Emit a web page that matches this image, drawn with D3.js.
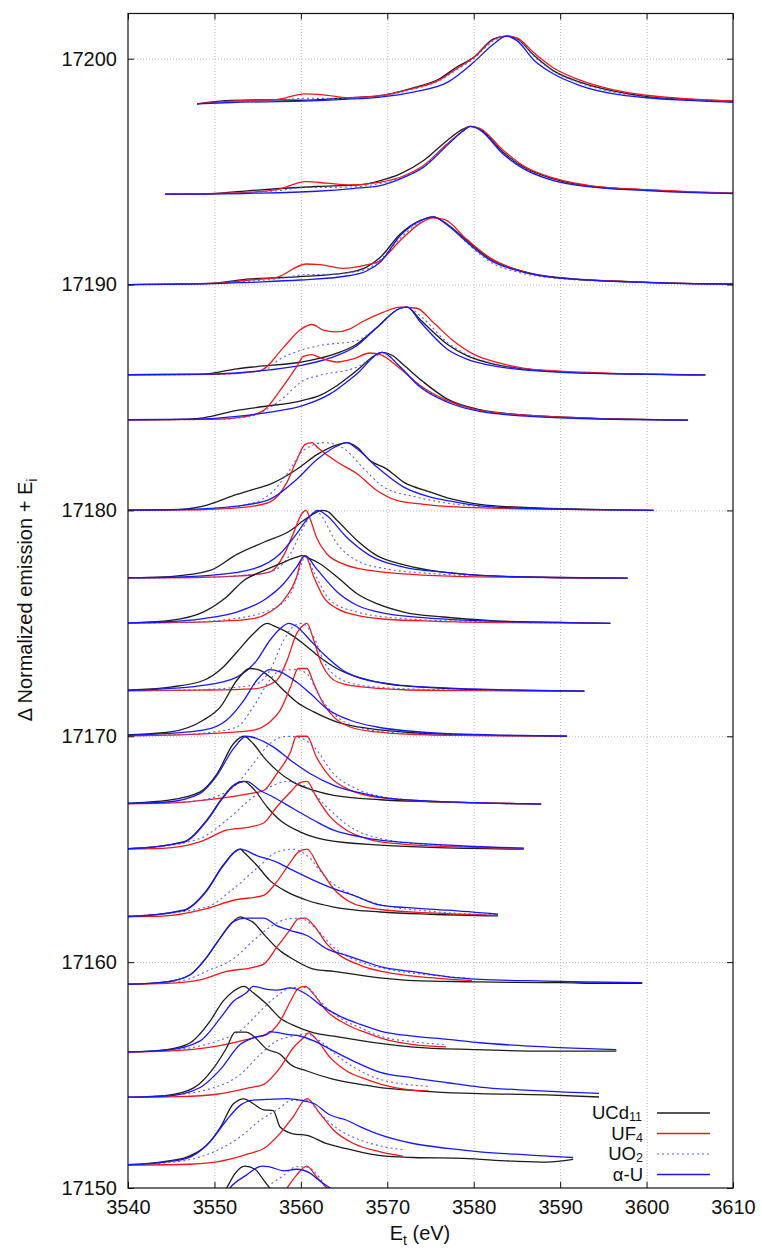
<!DOCTYPE html>
<html lang="en">
<head>
<meta charset="UTF-8">
<title>Normalized emission cuts</title>
<script src="https://d3js.org/d3.v7.min.js"></script>
<style>
  body { margin: 0; background: #fff; }
  svg { display: block; font-family: "Liberation Sans", Arial, sans-serif; }
</style>
</head>
<body>
<script>
// incident energies (baseline of each cut)
const incident = [17198, 17194, 17190, 17186, 17184, 17180, 17177, 17175, 17172,
                  17170, 17167, 17165, 17162, 17159, 17156, 17154, 17151, 17148];

// [E_t, normalized emission], one list per cut
const ucd11 = [
  [[3548,0],[3552,0.15],[3557,0.18],[3560,0.16],[3565.5,0.27],[3569,0.35],[3573,0.71],[3576,1.1],[3578,1.62],[3580,2.06],[3582.3,2.88],[3583.8,3],[3585,2.88],[3587,2.14],[3589.2,1.47],[3592.3,0.96],[3596.2,0.56],[3600,0.32],[3605,0.2],[3610,0.12],[3619,0.05]],
  [[3544.3,0],[3550.3,0.04],[3554.1,0.16],[3557.2,0.24],[3561.8,0.34],[3566.8,0.41],[3569.2,0.6],[3571.5,0.9],[3574.2,1.49],[3576.9,2.37],[3578.8,2.89],[3579.6,3],[3580.7,2.89],[3583.4,1.86],[3585.8,1.19],[3589.2,0.68],[3593.8,0.34],[3600,0.19],[3610,0.04],[3615,0.02]],
  [[3540,0],[3545,0.02],[3549.9,0.06],[3554.1,0.25],[3557.2,0.3],[3559.9,0.35],[3565.7,0.55],[3567.6,0.77],[3569.2,1.21],[3571.5,2.24],[3573.8,2.83],[3575.3,3],[3576.9,2.68],[3579.2,1.95],[3581.9,1.14],[3585.4,0.62],[3590,0.3],[3600,0.1],[3611,0.02]],
  [[3536,0],[3548.7,0.03],[3552.6,0.27],[3554.9,0.37],[3559.9,0.56],[3563.4,0.86],[3566.5,1.37],[3568.8,2.1],[3571.5,2.95],[3572.3,3],[3573.8,2.45],[3576.9,1.37],[3579.2,0.85],[3582.6,0.45],[3586.5,0.24],[3592.3,0.1],[3600,0.03],[3606.8,0]],
  [[3536,0],[3545,0.02],[3548.7,0.1],[3552.6,0.43],[3555.7,0.6],[3559.9,0.84],[3562.2,1.09],[3564.2,1.53],[3566.5,2.2],[3568.4,2.82],[3569.4,3],[3570.5,2.88],[3572,2.4],[3574.2,1.68],[3576.9,0.94],[3580.7,0.46],[3586.5,0.21],[3592.3,0.1],[3604.8,0]],
  [[3536,0],[3544.9,0.02],[3548.7,0.19],[3552.6,0.71],[3554.5,0.93],[3556.4,1.15],[3559.5,1.81],[3561.9,2.48],[3564.2,2.9],[3565.3,3],[3566.5,2.8],[3568,2.21],[3569.9,1.84],[3571.9,1.25],[3575,0.81],[3577.3,0.52],[3580.7,0.27],[3586.5,0.12],[3593,0.05],[3600.8,0]],
  [[3536,0],[3541,0.02],[3544.9,0.07],[3549.5,0.34],[3552.6,1.05],[3555.7,1.59],[3558.8,2.11],[3560.3,2.55],[3561.5,2.85],[3562.4,3],[3563,2.97],[3564.2,2.55],[3566.5,1.67],[3568.8,1],[3571.5,0.63],[3575,0.34],[3580.7,0.12],[3588,0.04],[3597.8,0]],
  [[3536,0],[3541,0.03],[3544.9,0.13],[3548.7,0.5],[3551.4,1.17],[3553.4,1.9],[3555.3,2.27],[3557.6,2.64],[3559.5,2.93],[3560.1,3],[3560.7,2.92],[3562.2,2.64],[3564.2,2.05],[3566.5,1.31],[3568.8,0.87],[3571.9,0.5],[3576.5,0.28],[3582,0.12],[3588,0.05],[3595.8,0]],
  [[3536,0],[3540,0.05],[3544.9,0.18],[3548.7,0.47],[3551,1.06],[3552.6,1.73],[3554.5,2.54],[3556.1,3],[3556.8,2.9],[3558.4,2.61],[3560.3,2.1],[3562.2,1.5],[3564.2,0.99],[3566.5,0.62],[3569.9,0.32],[3575,0.15],[3580,0.07],[3592.8,0]],
  [[3536,0],[3540,0.06],[3544.9,0.19],[3548.7,0.71],[3550.7,1.3],[3552.6,2.48],[3554.1,3],[3555.3,2.92],[3556.4,2.63],[3558,2.04],[3559.5,1.52],[3561.5,1.08],[3564.2,0.63],[3568,0.34],[3571.9,0.19],[3577,0.08],[3584,0.03],[3590.8,0]],
  [[3536,0],[3540,0.04],[3544.5,0.16],[3548.3,0.53],[3550.3,1.34],[3552.2,2.67],[3553.4,3],[3554.5,2.67],[3555.7,2.08],[3557.2,1.49],[3559.1,0.97],[3561.5,0.6],[3563.8,0.38],[3569.2,0.19],[3575,0.1],[3580,0.05],[3587.8,0]],
  [[3536,0],[3540,0.02],[3546.4,0.32],[3549.1,1.28],[3551,2.31],[3552.2,2.83],[3553.4,3],[3554.5,2.68],[3556.1,1.87],[3557.6,1.28],[3559.9,0.77],[3563,0.4],[3569.2,0.18],[3575,0.08],[3585.8,0]],
  [[3536,0],[3540,0.02],[3546.4,0.3],[3549.1,1.18],[3551,2.29],[3552.4,2.9],[3553,3],[3553.4,2.87],[3554.9,2.29],[3556.4,1.62],[3558.4,1.11],[3560.7,0.74],[3563.8,0.44],[3569.2,0.22],[3575,0.12],[3582.8,0.05]],
  [[3536,0],[3540,0.02],[3544.5,0.13],[3547.2,0.44],[3549.1,1.21],[3550.7,2.09],[3552.2,2.8],[3553,3],[3553.4,2.95],[3554.5,2.76],[3555.7,2.24],[3557.6,1.5],[3559.1,1.13],[3561.5,0.69],[3563.8,0.59],[3569.2,0.3],[3573,0.18],[3580,0.13],[3584.6,0.1],[3590,0.09],[3595,0.06],[3599.5,0.06]],
  [[3536,0],[3540,0.02],[3544.5,0.13],[3547.2,0.43],[3549.5,1.39],[3551,2.27],[3552.2,2.71],[3553.4,2.93],[3554.5,2.64],[3556.1,2.12],[3557.6,1.53],[3559.1,1.21],[3561.5,0.87],[3563.8,0.72],[3569.2,0.4],[3573,0.24],[3580,0.13],[3588.4,0.06],[3596.5,0.06]],
  [[3536,0],[3540,0.02],[3544.5,0.1],[3547.6,0.43],[3549.9,1.31],[3551.4,2.2],[3552.4,2.9],[3553.7,2.9],[3554.5,2.73],[3556.1,2.14],[3557.6,1.92],[3558.8,1.47],[3560.7,1.18],[3563.8,0.81],[3566.9,0.59],[3569.2,0.44],[3573,0.32],[3577,0.22],[3580.7,0.18],[3588.4,0.12],[3594.5,0.03]],
  [[3536,0],[3540,0.03],[3544.5,0.19],[3546.8,0.37],[3549.1,0.89],[3550.7,1.7],[3552.2,2.73],[3553.4,2.95],[3554.5,2.73],[3555.7,2.46],[3556.8,2.43],[3557.6,1.7],[3559.1,1.4],[3560.7,1.33],[3563,0.96],[3565.3,0.74],[3569.2,0.43],[3573,0.35],[3578.8,0.31],[3584.6,0.19],[3588.4,0.15],[3591.5,0.27]],
  [[3536,0],[3540,0.03],[3544.5,0.18],[3547.6,0.5],[3549.9,1.2],[3551.4,2],[3552.4,2.65],[3553.5,2.97],[3554.7,2.83],[3555.7,2.35],[3556.4,2],[3558,1.5],[3561,1.1],[3565,0.7],[3570,0.45],[3580,0.3],[3588.5,0.2]]
];

const uf4 = [
  [[3548,0],[3552,0.12],[3557,0.18],[3560.5,0.44],[3562.6,0.4],[3565.5,0.27],[3569,0.35],[3573,0.68],[3576,1.05],[3578,1.55],[3580,2.05],[3582.3,2.85],[3583.8,3],[3585,2.92],[3587,2.25],[3589.2,1.6],[3592.3,1.05],[3596.2,0.62],[3600,0.38],[3605,0.22],[3610,0.13],[3619,0.05]],
  [[3544.3,0],[3550.3,0.03],[3554.1,0.09],[3557.2,0.2],[3560.6,0.56],[3563,0.49],[3565.7,0.41],[3569.2,0.53],[3571.5,0.75],[3574.2,1.27],[3576.9,2.22],[3578.8,2.81],[3579.6,3],[3580.7,2.92],[3583.4,1.95],[3585.8,1.25],[3589.2,0.72],[3593.8,0.36],[3600,0.2],[3610,0.05],[3615,0.02]],
  [[3540,0],[3549.9,0.05],[3554.1,0.2],[3557.2,0.32],[3560.6,0.91],[3562.2,0.88],[3564.9,0.72],[3567.6,0.87],[3569.2,1.06],[3571.5,1.95],[3573.8,2.71],[3575.3,2.95],[3576.6,2.88],[3579.2,2.0],[3581.9,1.18],[3585.4,0.6],[3590,0.28],[3600,0.1],[3611,0]],
  [[3536,0],[3550,0.02],[3555.3,0.19],[3558,1.22],[3559.9,1.99],[3561.3,2.23],[3562.6,1.98],[3564,1.9],[3565.7,2.04],[3567,2.33],[3569.5,2.77],[3571.5,3],[3573.4,2.95],[3575.3,2.33],[3577.6,1.52],[3579.9,0.93],[3582.6,0.56],[3585.7,0.3],[3590,0.16],[3596.1,0.07],[3606.8,0]],
  [[3536,0],[3550,0.03],[3553.5,0.15],[3555.7,0.43],[3557.6,1.31],[3559.5,2.35],[3560.3,2.82],[3561.3,2.9],[3562.2,2.76],[3564.2,2.57],[3566.1,2.71],[3568,2.97],[3569.2,2.9],[3571.5,2.27],[3573.8,1.53],[3576.9,0.87],[3580.7,0.43],[3586.5,0.21],[3592.3,0.1],[3604.8,0]],
  [[3536,0],[3548,0.03],[3553,0.12],[3556.4,0.37],[3558.4,1.25],[3559.5,2.21],[3560.5,2.92],[3561.3,3],[3561.9,2.8],[3564.2,2.14],[3566.5,1.62],[3568.8,0.88],[3571.1,0.44],[3574.2,0.27],[3577.3,0.17],[3582,0.1],[3590,0.05],[3600.8,0]],
  [[3536,0],[3548,0.03],[3553,0.1],[3556.4,0.27],[3558,1],[3559.1,1.96],[3560.1,2.85],[3560.6,3],[3561.1,2.6],[3561.8,1.81],[3563,1.08],[3564.9,0.63],[3568,0.34],[3571.9,0.19],[3577.3,0.09],[3585,0.04],[3597.8,0]],
  [[3536,0],[3546,0.04],[3551,0.1],[3554.5,0.21],[3556.4,0.5],[3558,1.02],[3559.5,2.05],[3560.1,2.86],[3560.5,3],[3561.5,2.05],[3562.6,1.17],[3564.2,0.65],[3566.5,0.35],[3569.9,0.18],[3575.7,0.09],[3585,0.03],[3595.8,0]],
  [[3536,0],[3548,0.04],[3554.5,0.1],[3557.2,0.47],[3558.4,1.36],[3559.5,2.54],[3560.1,2.86],[3560.7,3],[3561.5,2.24],[3562.4,1.21],[3563.4,0.62],[3564.9,0.32],[3568,0.15],[3571.9,0.06],[3580,0.02],[3592.8,0]],
  [[3536,0],[3546,0.06],[3551,0.15],[3554.5,0.27],[3556.4,0.63],[3557.6,1.15],[3558.8,2.18],[3559.7,3],[3560.7,3],[3561.5,2.33],[3562.6,1.45],[3563.8,0.86],[3565.7,0.41],[3568.8,0.19],[3572.7,0.09],[3580,0.03],[3590.8,0]],
  [[3536,0],[3544.5,0.04],[3550.3,0.24],[3554.1,0.46],[3555.7,0.6],[3557.2,1.34],[3558.8,2.3],[3559.5,3],[3560.7,3],[3561.8,2.08],[3563.4,1.19],[3565.3,0.68],[3567.6,0.38],[3569.2,0.28],[3575,0.12],[3580,0.06],[3587.8,0]],
  [[3536,0],[3544,0.04],[3548.3,0.32],[3551.4,0.84],[3553.7,0.96],[3555.7,1.16],[3557.2,1.87],[3558.8,2.53],[3559.9,2.95],[3560.7,3],[3561.8,2.31],[3563.4,1.43],[3565.3,0.84],[3567.6,0.47],[3569.2,0.32],[3575,0.15],[3580,0.08],[3585.8,0.03]],
  [[3536,0],[3544,0.04],[3549.1,0.37],[3552.2,0.74],[3555.7,0.96],[3557.2,1.55],[3558.8,2.43],[3559.7,2.87],[3560.7,3],[3562.2,2.13],[3563.8,1.25],[3565.7,0.66],[3567.6,0.42],[3569.2,0.33],[3575,0.18],[3582.8,0.07]],
  [[3536,0],[3544.5,0.06],[3548.3,0.21],[3551.4,0.59],[3554.5,0.77],[3555.7,0.91],[3557.2,1.65],[3558.8,2.46],[3559.7,2.91],[3560.5,2.95],[3561.5,2.62],[3563,1.81],[3564.5,1.3],[3566.9,0.86],[3569.2,0.6],[3573,0.38],[3577,0.25],[3579.8,0.18]],
  [[3536,0],[3544.5,0.06],[3550.3,0.28],[3554.5,0.65],[3556.1,0.8],[3557.6,1.39],[3558.8,2.27],[3559.7,2.83],[3560.5,2.93],[3561.5,2.57],[3563,1.83],[3565.3,1.24],[3567.6,0.87],[3569.2,0.65],[3573,0.35],[3576.8,0.25]],
  [[3536,0],[3546,0.05],[3550.3,0.15],[3554.1,0.44],[3555.7,0.59],[3557.6,1.33],[3559.1,2.2],[3560.3,2.65],[3560.9,2.87],[3561.8,2.58],[3563.4,1.77],[3565.3,1.18],[3567.6,0.81],[3569.2,0.6],[3572.2,0.37],[3574.8,0.3]],
  [[3536,0],[3546,0.04],[3550.3,0.16],[3554.1,0.53],[3555.7,0.75],[3557.6,1.42],[3559.1,2.15],[3560.7,2.96],[3562.2,2.3],[3563.8,1.56],[3566.1,0.97],[3569.2,0.6],[3571.8,0.41]],
  [[3536,0],[3546,0.05],[3551,0.2],[3554.5,0.6],[3556.5,1],[3558.4,2],[3559.5,2.57],[3560.7,2.97],[3561.8,2.5],[3563,2],[3565,1.2],[3568.8,0.6]]
];

const uo2 = [
  [[3548,0],[3552,0.1],[3557,0.14],[3560.5,0.25],[3563,0.24],[3566,0.26],[3569,0.33],[3573,0.65],[3576,1.02],[3578,1.5],[3580,2],[3582.3,2.8],[3583.8,3],[3585,2.88],[3587,2.1],[3589.2,1.45],[3592.3,0.92],[3596.2,0.52],[3600,0.3],[3605,0.18],[3610,0.1],[3619,0.04]],
  [[3544.3,0],[3550.3,0.03],[3554.1,0.08],[3557.2,0.15],[3560.6,0.3],[3563,0.3],[3566,0.32],[3569.2,0.48],[3571.5,0.72],[3574.2,1.22],[3576.9,2.2],[3578.8,2.8],[3579.6,3],[3580.7,2.88],[3583.4,1.82],[3585.8,1.15],[3589.2,0.64],[3593.8,0.32],[3600,0.17],[3610,0.04],[3615,0.02]],
  [[3540,0],[3549.9,0.05],[3554.1,0.15],[3557.2,0.25],[3560.6,0.44],[3563,0.45],[3566,0.55],[3568,0.75],[3569.2,1.1],[3571.5,2.05],[3573.8,2.78],[3575.3,3],[3576.9,2.7],[3579.2,1.85],[3581.9,1],[3585.4,0.52],[3590,0.26],[3600,0.09],[3611,0.01]],
  [[3536,0],[3550,0.02],[3555.7,0.2],[3557.6,0.7],[3559.9,1.08],[3562.2,1.3],[3566.5,1.52],[3568.8,2.1],[3571.5,2.95],[3572.3,3],[3574,2.55],[3576.9,1.45],[3579.2,0.9],[3582.6,0.48],[3586.5,0.25],[3592.3,0.1],[3606.8,0]],
  [[3536,0],[3550,0.03],[3554,0.15],[3557.6,0.87],[3560.3,1.75],[3562.2,1.98],[3566.5,2.35],[3568.8,2.86],[3569.5,3],[3571.5,2.35],[3573.8,1.5],[3576.9,0.85],[3580.7,0.42],[3586.5,0.19],[3592.3,0.08],[3604.8,0]],
  [[3536,0],[3548,0.03],[3553,0.2],[3556.4,0.71],[3558.4,1.62],[3560.3,2.66],[3562.7,3],[3565,2.73],[3567.3,1.84],[3569.6,1.03],[3573.4,0.59],[3577.3,0.3],[3582,0.15],[3590,0.06],[3600.8,0]],
  [[3536,0],[3548,0.03],[3553,0.12],[3556.4,0.27],[3558.8,1.08],[3560.3,2.26],[3561.3,2.85],[3561.8,3],[3562.2,2.85],[3564.2,1.52],[3566.5,0.78],[3569.9,0.41],[3575.7,0.19],[3585,0.06],[3597.8,0]],
  [[3536,0],[3546,0.04],[3551,0.15],[3556.4,0.58],[3558.8,1.31],[3560.1,2.64],[3560.5,3],[3561.5,2.27],[3563.4,1.02],[3566.5,0.5],[3571.9,0.21],[3580,0.08],[3595.8,0]],
  [[3536,0],[3548,0.06],[3552,0.15],[3554.9,0.32],[3556.4,0.91],[3558,2.24],[3559.1,2.86],[3560,3],[3561.5,2.39],[3562.6,1.36],[3564.9,0.47],[3568,0.21],[3575,0.07],[3592.8,0]],
  [[3536,0],[3546,0.07],[3550,0.2],[3552.6,0.41],[3554.5,1.3],[3556.4,2.48],[3557.6,2.92],[3559.5,2.95],[3560.7,2.77],[3562.2,1.74],[3564.2,0.86],[3566.5,0.41],[3571,0.15],[3580,0.04],[3590.8,0]],
  [[3536,0],[3544,0.05],[3548.3,0.16],[3552.2,0.75],[3554.5,1.79],[3556.4,2.67],[3558.4,3],[3559.9,2.93],[3561.5,2.53],[3563.8,1.34],[3566.9,0.6],[3569.2,0.34],[3575,0.13],[3580,0.05],[3587.8,0]],
  [[3536,0],[3542,0.06],[3548.3,0.47],[3551.4,1.28],[3554.5,2.31],[3556.4,2.75],[3558.4,3],[3560.7,2.75],[3563,1.87],[3565.7,0.99],[3569.2,0.47],[3575,0.2],[3580,0.1],[3585.8,0.04]],
  [[3536,0],[3542,0.08],[3549.1,0.44],[3552.2,1.25],[3555.3,2.29],[3557.2,2.87],[3559.1,3],[3560.7,2.72],[3563,1.7],[3566.1,0.96],[3569.2,0.55],[3575,0.25],[3582.8,0.09]],
  [[3536,0],[3544,0.08],[3547,0.25],[3549.1,0.6],[3552.2,1.15],[3554.5,1.95],[3556.4,2.54],[3558.4,2.91],[3559.9,2.95],[3561.8,2.46],[3563.8,1.65],[3566.9,1],[3569.2,0.75],[3575,0.43],[3579.8,0.28]],
  [[3536,0],[3544,0.08],[3550.3,0.5],[3553.4,1.09],[3555.3,1.83],[3557.2,2.49],[3559.1,2.88],[3560.7,2.88],[3562.2,2.27],[3564.5,1.53],[3566.9,1.09],[3569.2,0.72],[3573,0.47],[3576.8,0.35]],
  [[3536,0],[3544,0.08],[3549.9,0.44],[3553,1.03],[3555.3,1.92],[3557.2,2.51],[3559.1,2.73],[3560.7,2.83],[3562.2,2.51],[3564.5,1.77],[3566.9,1.18],[3569.2,0.8],[3574.8,0.5]],
  [[3536,0],[3544,0.1],[3549.5,0.53],[3553,1.27],[3555.3,2],[3557.2,2.45],[3559.1,2.89],[3560.7,2.89],[3562.2,2.3],[3564.5,1.56],[3566.9,1.12],[3569.2,0.86],[3571.8,0.7]],
  [[3536,0],[3544,0.1],[3549.5,0.55],[3553,1.3],[3555.8,2],[3557.8,2.5],[3559.5,2.94],[3560.7,2.92],[3562.2,2.45],[3563,2],[3565,1.5],[3568.8,0.9]]
];

const alphaU = [
  [[3548,0],[3552,0.06],[3560,0.12],[3565,0.2],[3569.2,0.3],[3573,0.52],[3577,0.96],[3580,1.84],[3582.3,2.65],[3583.8,3],[3585,2.8],[3587,1.92],[3589.2,1.33],[3592.3,0.81],[3596.2,0.44],[3600,0.27],[3605,0.15],[3610,0.07],[3619,0.03]],
  [[3544.3,0],[3554.1,0.04],[3561.8,0.13],[3566,0.25],[3569.2,0.38],[3571.5,0.68],[3574.2,1.19],[3576.9,2.15],[3578.8,2.81],[3579.6,3],[3580.7,2.85],[3583.4,1.78],[3585.8,1.12],[3589.2,0.6],[3593.8,0.31],[3600,0.16],[3610,0.03],[3615,0.02]],
  [[3540,0],[3549.9,0.04],[3554.1,0.1],[3559.9,0.2],[3565.7,0.4],[3567.6,0.6],[3569.2,1],[3571.5,2.17],[3573.8,2.83],[3575.3,3],[3576.9,2.65],[3579.2,1.88],[3581.9,1.08],[3585.4,0.58],[3590,0.28],[3600,0.09],[3611,0.01]],
  [[3536,0],[3548,0.02],[3552.6,0.09],[3556.4,0.22],[3560.3,0.44],[3563.4,0.75],[3566.5,1.3],[3568.8,2.1],[3571.5,2.95],[3572.3,3],[3573.8,2.35],[3576.9,1.15],[3579.2,0.7],[3582.6,0.38],[3586.5,0.2],[3592.3,0.08],[3606.8,0]],
  [[3536,0],[3548,0.04],[3552.6,0.16],[3556.4,0.35],[3560.3,0.65],[3563.4,1.16],[3566.5,2.05],[3569.4,3],[3571.5,2.35],[3573.8,1.46],[3576.9,0.8],[3580.7,0.38],[3586.5,0.16],[3592.3,0.07],[3604.8,0]],
  [[3536,0],[3546,0.04],[3552.6,0.19],[3556.4,0.49],[3559.5,1.37],[3561.9,2.26],[3564.2,2.85],[3565.3,3],[3566.5,2.73],[3568.8,1.92],[3571.9,1.03],[3575,0.59],[3577.3,0.41],[3580.7,0.2],[3586.5,0.09],[3593,0.04],[3600.8,0]],
  [[3536,0],[3545,0.04],[3549.5,0.12],[3554.5,0.41],[3557.6,1.08],[3559.5,1.96],[3561.1,2.77],[3562,3],[3563,2.77],[3565.3,1.81],[3568,1],[3571.9,0.49],[3576.5,0.27],[3582,0.1],[3590,0.03],[3597.8,0]],
  [[3536,0],[3544,0.06],[3548.7,0.21],[3552.6,0.5],[3555.7,1.02],[3558,1.75],[3559.5,2.49],[3560.5,3],[3561.8,2.42],[3564.2,1.39],[3566.5,0.8],[3569.9,0.43],[3575.7,0.21],[3582,0.1],[3590,0.04],[3595.8,0]],
  [[3536,0],[3542,0.06],[3548.7,0.25],[3552.6,0.62],[3554.9,1.36],[3556.4,2.24],[3557.6,2.76],[3558.6,3],[3559.5,2.86],[3561.1,2.24],[3562.6,1.65],[3564.9,0.91],[3568,0.47],[3571.9,0.25],[3577.3,0.13],[3584,0.05],[3592.8,0]],
  [[3536,0],[3542,0.07],[3548.7,0.27],[3551.4,0.71],[3553.4,1.59],[3554.9,2.48],[3556.4,2.95],[3557.6,2.85],[3559.5,2.4],[3561.1,1.89],[3563,1.22],[3565.7,0.71],[3568.8,0.41],[3573.8,0.19],[3578,0.1],[3585,0.04],[3590.8,0]],
  [[3536,0],[3540,0.03],[3544.5,0.09],[3548.3,0.46],[3550.3,1.27],[3552.2,2.45],[3553.7,3],[3554.9,2.9],[3556.8,2.53],[3558.8,1.94],[3561.1,1.34],[3563.8,0.83],[3566.9,0.49],[3569.2,0.31],[3575,0.13],[3580,0.06],[3587.8,0]],
  [[3536,0],[3540,0.02],[3546.4,0.3],[3549.1,1.25],[3551,2.28],[3552.2,2.8],[3553.7,3],[3555.3,2.6],[3556.8,2.31],[3559.1,1.8],[3561.5,1.28],[3563.8,0.84],[3566.9,0.55],[3569.2,0.4],[3572,0.3],[3576,0.2],[3580,0.12],[3585.8,0.05]],
  [[3536,0],[3540,0.02],[3546.4,0.28],[3549.1,1.15],[3551,2.26],[3553,3],[3554.9,2.72],[3557.2,2.43],[3559.1,2.06],[3561.5,1.62],[3563.8,1.25],[3566.1,0.96],[3569.2,0.52],[3572,0.42],[3577,0.3],[3582.8,0.12]],
  [[3536,0],[3540,0.02],[3544.5,0.13],[3547.2,0.44],[3549.1,1.21],[3550.7,2.09],[3552.2,2.8],[3553.7,2.95],[3555.7,2.95],[3557.2,2.62],[3558.8,2.4],[3560.7,2.18],[3563,1.59],[3565.3,1.3],[3567.6,1],[3569.2,0.8],[3573,0.58],[3577,0.35],[3580.7,0.24],[3588.4,0.16],[3593,0.12],[3599.5,0.09]],
  [[3536,0],[3540,0.02],[3544.5,0.1],[3548.3,0.5],[3550.7,1.53],[3552.2,2.27],[3553.7,2.64],[3554.5,2.93],[3556.1,2.79],[3557.2,2.76],[3558.8,2.86],[3560.7,2.57],[3562.2,2.12],[3564.5,1.61],[3566.9,1.24],[3569.2,0.95],[3573,0.72],[3577,0.58],[3580.7,0.43],[3586.5,0.28],[3592.3,0.18],[3596.5,0.13]],
  [[3536,0],[3540,0.02],[3544.5,0.07],[3548.3,0.44],[3550.7,1.25],[3553,2.36],[3554.5,2.65],[3556,2.8],[3556.4,2.92],[3558.4,2.8],[3559.9,2.73],[3561.5,2.51],[3563.8,2.06],[3566.1,1.62],[3569.2,1.12],[3573,0.88],[3577,0.66],[3580.7,0.47],[3586.5,0.32],[3592.3,0.22],[3594.5,0.19]],
  [[3536,0],[3540,0.03],[3544.5,0.16],[3546.8,0.31],[3549.5,1.05],[3551.4,2],[3553,2.67],[3554.5,2.89],[3556.1,2.92],[3558.4,2.96],[3559.9,2.89],[3561.5,2.74],[3563.4,2.23],[3565.3,2],[3566.9,1.71],[3569.2,1.35],[3573,0.97],[3577,0.75],[3580.7,0.6],[3586.5,0.46],[3591.5,0.35]],
  [[3536,0],[3540,0.03],[3544.5,0.14],[3548,0.5],[3550.5,1.2],[3551.8,2],[3553.7,2.57],[3555.5,2.97],[3556.4,2.94],[3558,2.76],[3559.5,2.83],[3561.1,2.65],[3561.8,2.43],[3563.4,2],[3566,1.6],[3570,1.1],[3576,0.75],[3582,0.55],[3588.5,0.4]]
];

const xTicks = [3540, 3550, 3560, 3570, 3580, 3590, 3600, 3610];
const yTicks = [17150, 17160, 17170, 17180, 17190, 17200];
const legendLabels = [["UCd", "11"], ["UF", "4"], ["UO", "2"], ["α-U", ""]];

const w = 762, h = 1251;
const plotL = 128, plotR = 733, plotT = 13.5, plotB = 1188;

const svg = d3.select("body").append("svg")
    .attr("width", w)
    .attr("height", h);

const x = d3.scaleLinear().domain([3540, 3610]).range([plotL, plotR]);
const y = d3.scaleLinear().domain([17150, 17202]).range([plotB, plotT]);

// grid
const grid = svg.append("g").attr("class", "grid");
grid.append("g")
    .attr("transform", `translate(0,${plotB})`)
    .call(d3.axisBottom(x).tickValues(xTicks.slice(1, -1)).tickSize(-(plotB - plotT)).tickFormat(""));
grid.append("g")
    .attr("transform", `translate(${plotL},0)`)
    .call(d3.axisLeft(y).tickValues(yTicks.slice(1)).tickSize(-(plotR - plotL)).tickFormat(""));
grid.selectAll(".domain").remove();
grid.selectAll("line")
    .attr("stroke", "#b8b8b8")
    .attr("stroke-width", 1)
    .attr("stroke-dasharray", "1,2");

svg.append("clipPath").attr("id", "plotclip")
  .append("rect")
    .attr("x", plotL).attr("y", plotT)
    .attr("width", plotR - plotL).attr("height", plotB - plotT);

const series = [
  { data: ucd11, color: "#1c1c1c", dash: null, width: 1.3 },
  { data: uf4, color: "#f01818", dash: null, width: 1.3 },
  { data: uo2, color: "#5a5aff", dash: "2,3", width: 1.1 },
  { data: alphaU, color: "#1818f0", dash: null, width: 1.3 }
];

const curves = svg.append("g").attr("clip-path", "url(#plotclip)");

incident.forEach(function(ei, i) {
  const line = d3.line()
      .curve(d3.curveMonotoneX)
      .x(d => x(d[0]))
      .y(d => y(ei + d[1]));
  series.forEach(function(s) {
    curves.append("path")
        .datum(s.data[i])
        .attr("d", line)
        .attr("fill", "none")
        .attr("stroke", s.color)
        .attr("stroke-width", s.width)
        .attr("stroke-dasharray", s.dash)
        .attr("stroke-linejoin", "round");
  });
});

// frame and ticks
svg.append("rect")
    .attr("x", plotL).attr("y", plotT)
    .attr("width", plotR - plotL).attr("height", plotB - plotT)
    .attr("fill", "none")
    .attr("stroke", "#111")
    .attr("stroke-width", 1.2);

const axes = svg.append("g").attr("class", "axes");
axes.append("g")
    .attr("transform", `translate(0,${plotB})`)
    .call(d3.axisBottom(x).tickValues(xTicks).tickFormat(d3.format("d"))
      .tickSizeInner(-6).tickSizeOuter(0).tickPadding(12));
axes.append("g")
    .attr("transform", `translate(0,${plotT})`)
    .call(d3.axisTop(x).tickValues(xTicks).tickSizeInner(-6).tickSizeOuter(0).tickFormat(""));
axes.append("g")
    .attr("transform", `translate(${plotL},0)`)
    .call(d3.axisLeft(y).tickValues(yTicks).tickFormat(d3.format("d"))
      .tickSizeInner(-6).tickSizeOuter(0).tickPadding(11));
axes.append("g")
    .attr("transform", `translate(${plotR},0)`)
    .call(d3.axisRight(y).tickValues(yTicks).tickSizeInner(-6).tickSizeOuter(0).tickFormat(""));
axes.selectAll(".domain").remove();
axes.selectAll("line").attr("stroke", "#111").attr("stroke-width", 1);
axes.selectAll("text")
    .attr("font-size", 20)
    .attr("font-family", "Liberation Sans, Arial, sans-serif")
    .attr("fill", "#111");

// axis titles
const xt = svg.append("text")
    .attr("x", 420).attr("y", 1240)
    .attr("text-anchor", "middle")
    .attr("font-size", 20)
    .attr("fill", "#111");
xt.append("tspan").text("E");
xt.append("tspan").attr("font-size", 14).attr("dy", 5).text("t");
xt.append("tspan").attr("dy", -5).text(" (eV)");

const yt = svg.append("text")
    .attr("transform", "translate(32,600) rotate(-90)")
    .attr("text-anchor", "middle")
    .attr("font-size", 20)
    .attr("fill", "#111");
yt.append("tspan").text("Δ Normalized emission + E");
yt.append("tspan").attr("font-size", 14).attr("dy", 5).text("i");

// legend: main label and subscript as separate texts
const legend = svg.append("g");
legendLabels.forEach(function(lab, i) {
  const s = series[i];
  const ly = 1113 + i * 20.5;
  const subW = lab[1] ? lab[1].length * 7 : 0;
  legend.append("text")
      .attr("x", 643 - subW).attr("y", ly + 6)
      .attr("text-anchor", "end")
      .attr("font-size", 18.5)
      .attr("fill", "#111")
      .text(lab[0]);
  if (lab[1]) {
    legend.append("text")
        .attr("x", 643 - subW).attr("y", ly + 8)
        .attr("font-size", 12.5)
        .attr("fill", "#111")
        .text(lab[1]);
  }
  legend.append("line")
      .attr("x1", 657).attr("x2", 710)
      .attr("y1", ly).attr("y2", ly)
      .attr("stroke", s.color)
      .attr("stroke-width", s.width)
      .attr("stroke-dasharray", s.dash);
});
</script>
</body>
</html>
